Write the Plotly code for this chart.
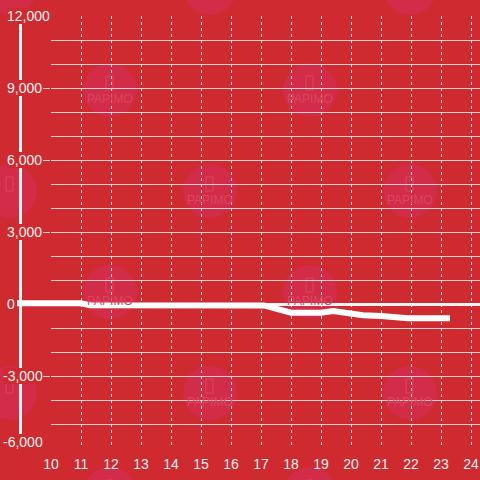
import plotly.graph_objects as go

# ---- data ----
x_vals = [8.87, 11.0, 11.3, 16.6, 16.9, 17.1, 18.0, 19.0, 19.4, 20.4, 21.0, 21.9, 23.3]
y_vals = [30, 30, -50, -50, -30, -60, -360, -360, -290, -465, -500, -590, -590]
x_ticks = list(range(10, 25))
y_ticks = [-6000, -3000, 0, 3000, 6000, 9000, 12000]
y_range = [-6000, 12000]
x_range_grid = [10, 24.3]
x_range_data = [8.8667, 24.3]

BG = "#CF2A2F"
TXT = "#F3F3F3"
OFF = 0  # page offset of the figure (body margin removed)
W, H = 480, 480
ML, MR, MT, MB = 17, 0, 16, 32
PW = W - ML - MR
PH = H - MT - MB


def px_x(px):
    return (px - OFF - ML) / PW


def px_y(py):
    return (H - MB - (py - OFF)) / PH


fig = go.Figure()
fig.add_trace(go.Scatter(
    x=x_vals, y=y_vals, xaxis="x2", yaxis="y2", mode="lines",
    line=dict(color="#FFFFFF", width=6), hoverinfo="skip", showlegend=False))

grid_left = px_x(51)

fig.update_layout(
    width=W, height=H,
    margin=dict(l=ML, r=MR, t=MT, b=MB, autoexpand=False),
    paper_bgcolor=BG, plot_bgcolor="rgba(0,0,0,0)",
    font=dict(family="Liberation Sans, Arial, sans-serif", size=14, color=TXT),
    showlegend=False,
    xaxis=dict(domain=[grid_left, 1], range=x_range_grid, tickvals=x_ticks,
               showgrid=True, gridcolor="#E8E8E8", gridwidth=1, griddash="3px,3px",
               zeroline=False, showline=False, ticks="outside", ticklen=3,
               tickcolor="rgba(0,0,0,0)", tickfont=dict(size=14, color=TXT), anchor="y"),
    yaxis=dict(domain=[0, 1], range=y_range,
               showgrid=True, gridcolor="#D2D2D2", gridwidth=1,
               minor=dict(dtick=1000, tick0=0, showgrid=True, gridcolor="#D2D2D2",
                          gridwidth=1, ticks=""),
               zeroline=True, zerolinecolor="#F5F5F5", zerolinewidth=3,
               showline=False, showticklabels=False, anchor="x",
               ticks="outside", ticklen=7, tickcolor="#D2D2D2", tickwidth=1,
               tickvals=[v for v in y_ticks if v != y_range[0]]),
    xaxis2=dict(domain=[0, 1], range=x_range_data, visible=False, anchor="y2"),
    yaxis2=dict(domain=[0, 1], range=y_range, visible=False, anchor="x2"),
)

# watermark circles
centers = []
for row, py in enumerate([-12, 90, 191, 292, 393, 494]):
    xs = [10, 210, 410] if row % 2 == 0 else [110, 310]
    for px in xs:
        centers.append((px, py))
R = 27
WM = "#DA475E"
for px, py in centers:
    fig.add_shape(type="circle", xref="paper", yref="paper",
                  x0=px_x(px - R), x1=px_x(px + R),
                  y0=px_y(py + R), y1=px_y(py - R),
                  fillcolor="#D22C48", line=dict(width=0), layer="below")
    fig.add_shape(type="rect", xref="paper", yref="paper",
                  x0=px_x(px - 4), x1=px_x(px + 3),
                  y0=px_y(py), y1=px_y(py - 14),
                  line=dict(color=WM, width=1), fillcolor="rgba(0,0,0,0)", layer="below")
    if 0 < py + 9 < H and 20 < px < W - 20:
        fig.add_annotation(text="PAPIMO", xref="paper", yref="paper",
                           x=px_x(px), y=px_y(py + 9),
                           showarrow=False, font=dict(size=12, color=WM),
                           xanchor="center", yanchor="middle")

# y-axis bar
fig.add_shape(type="line", xref="paper", yref="y",
              x0=px_x(20.5), x1=px_x(20.5), y0=y_range[0], y1=y_range[1],
              line=dict(color="#F5F5F5", width=3), layer="above")

# y tick labels with background
for v in y_ticks:
    fig.add_annotation(text=f"{v:,}", xref="paper", yref="y",
                       x=px_x(3 if v < 0 else 7), y=v,
                       yshift=6 if v == y_range[0] else 0,
                       xanchor="left", yanchor="middle", showarrow=False,
                       bgcolor=BG, borderpad=0, borderwidth=0,
                       font=dict(size=14, color=TXT))

fig.write_html("out.html", config={"displayModeBar": False},
               post_script="document.body.style.margin='0';document.body.style.background='%s';" % BG)
